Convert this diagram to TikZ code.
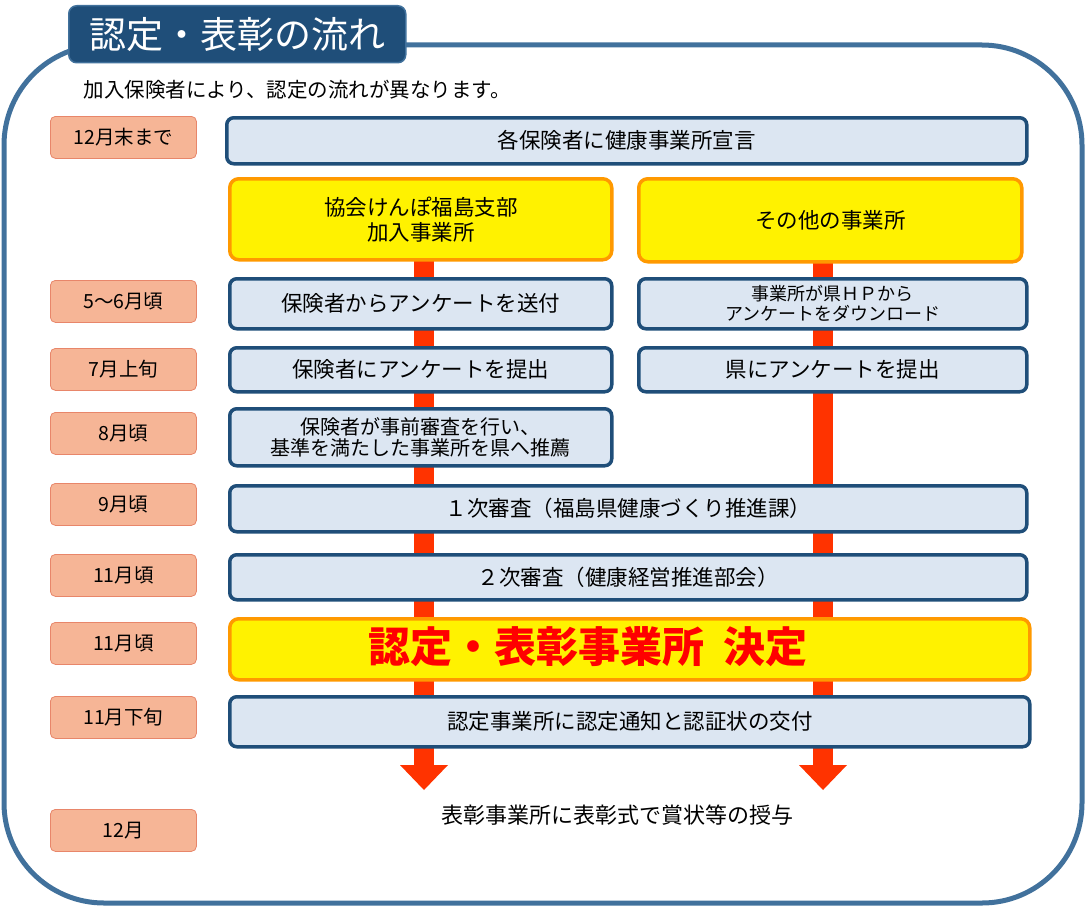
\documentclass[tikz,border=0pt]{standalone}
\usepackage{fontspec}
\setmainfont{Noto Sans CJK JP}
\begin{document}
\begin{tikzpicture}[x=1pt,y=-1pt,
 bbox/.style={draw=boxline,line width=3.5pt,fill=boxfill,rounded corners=7pt,font=\fontsize{21.5}{25}\selectfont,align=center},
 ybox/.style={draw=orange!80!yellow,line width=3.5pt,fill=yellow,rounded corners=9pt,font=\fontsize{21.5}{25}\selectfont,align=center},
 dlab/.style={draw=salmonline,line width=0.8pt,fill=salmon,rounded corners=5pt,minimum width=146pt,minimum height=42pt,font=\fontsize{19.5}{22}\selectfont},
 redarrow/.style={draw=none,fill=arrowred}]
\definecolor{boxline}{HTML}{1F4E79}
\definecolor{boxfill}{HTML}{DCE6F2}
\definecolor{salmon}{HTML}{F6B596}
\definecolor{salmonline}{HTML}{E8866A}
\definecolor{arrowred}{HTML}{FF3300}
\definecolor{frame}{HTML}{41719C}
\definecolor{tabc}{HTML}{1F4E79}
\useasboundingbox (0,0) rectangle (1086,907);
\draw[frame,line width=5pt,rounded corners=100pt] (4,45) rectangle (1082,903);
\node[fill=tabc,draw=frame,line width=1.5pt,rounded corners=8pt,minimum width=337pt,minimum height=57pt,text=white,font=\fontsize{37}{40}\selectfont,anchor=north west] (title) at (68,5) {認定・表彰の流れ};
\node[anchor=west,font=\fontsize{20.5}{24}\selectfont] (sub) at (80,90) {加入保険者により、認定の流れが異なります。};
% arrows
\fill[arrowred] (414,255) rectangle (434,765);
\fill[arrowred] (400,765) -- (424,790) -- (448,765) -- cycle;
\fill[arrowred] (813,260) rectangle (833,765);
\fill[arrowred] (799,765) -- (823,790) -- (847,765) -- cycle;
% boxes
\node[bbox,minimum width=800pt,minimum height=46pt,anchor=north west] (b1) at (225,116) {各保険者に健康事業所宣言};
\node[ybox,minimum width=382pt,minimum height=81pt,anchor=north west] (y1) at (228,177) {協会けんぽ福島支部\\加入事業所};
\node[ybox,minimum width=383pt,minimum height=83pt,anchor=north west] (y2) at (637,177) {その他の事業所};
\node[bbox,minimum width=382pt,minimum height=50pt,anchor=north west] (b2l) at (228,277) {保険者からアンケートを送付};
\node[bbox,minimum width=388pt,minimum height=50pt,anchor=north west,font=\fontsize{18}{20}\selectfont] (b2r) at (637,277) {事業所が県ＨＰから\\アンケートをダウンロード};
\node[bbox,minimum width=382pt,minimum height=44pt,anchor=north west] (b3l) at (228,346) {保険者にアンケートを提出};
\node[bbox,minimum width=388pt,minimum height=44pt,anchor=north west] (b3r) at (637,346) {県にアンケートを提出};
\node[bbox,minimum width=382pt,minimum height=57pt,anchor=north west,font=\fontsize{20}{21}\selectfont] (b4) at (228,407) {保険者が事前審査を行い、\\基準を満たした事業所を県へ推薦};
\node[bbox,minimum width=797pt,minimum height=46pt,anchor=north west] (b5) at (228,484) {１次審査（福島県健康づくり推進課）};
\node[bbox,minimum width=797pt,minimum height=45pt,anchor=north west] (b6) at (228,553) {２次審査（健康経営推進部会）};
\node[ybox,minimum width=800pt,minimum height=61pt,anchor=north west] (b7) at (228,617) {};
\node[text=red,font=\fontsize{42}{46}\selectfont\bfseries] (b7t) at (588,647) {認定・表彰事業所\ \ 決定};
\node[bbox,minimum width=800pt,minimum height=50pt,anchor=north west] (b8) at (228,695) {認定事業所に認定通知と認証状の交付};
\node[font=\fontsize{22}{26}\selectfont] (b9) at (617,815) {表彰事業所に表彰式で賞状等の授与};
% date labels
\node[dlab,anchor=north west] (d1) at (50,116) {12月末まで};
\node[dlab,anchor=north west] (d2) at (50,280) {5～6月頃};
\node[dlab,anchor=north west] (d3) at (50,348) {7月上旬};
\node[dlab,anchor=north west] (d4) at (50,412) {8月頃};
\node[dlab,anchor=north west] (d5) at (50,483) {9月頃};
\node[dlab,anchor=north west] (d6) at (50,554) {11月頃};
\node[dlab,anchor=north west] (d7) at (50,622) {11月頃};
\node[dlab,anchor=north west] (d8) at (50,696) {11月下旬};
\node[dlab,anchor=north west] (d9) at (50,809) {12月};
\end{tikzpicture}
\end{document}
